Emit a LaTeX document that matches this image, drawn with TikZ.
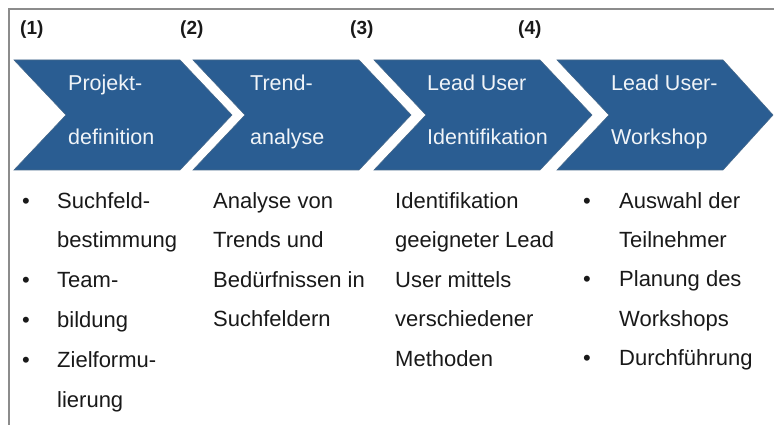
\documentclass[tikz,border=0pt]{standalone}
\usepackage{fontspec}
\setmainfont{Liberation Sans}
\definecolor{chevblue}{RGB}{42,93,146}
\definecolor{chevedge}{RGB}{70,105,140}
\definecolor{framegray}{RGB}{140,140,140}
\definecolor{bodygray}{RGB}{25,25,25}
\definecolor{lighttext}{RGB}{240,244,248}
\tikzset{
  chev/.style={fill=chevblue, draw=chevedge, line width=0.6pt, line join=miter},
  ctext/.style={text=lighttext, font=\fontsize{21.5}{24}\selectfont, anchor=base west, inner sep=0pt},
  btext/.style={text=bodygray, font=\fontsize{22}{26}\selectfont, anchor=base west, inner sep=0pt},
  bul/.style={text=bodygray, font=\fontsize{22}{26}\selectfont, anchor=base, inner sep=0pt},
  numlab/.style={text=bodygray, font=\bfseries\fontsize{19}{22}\selectfont, anchor=base west, inner sep=0pt},
  framestyle/.style={draw=framegray, line width=1.6pt}
}
\begin{document}
\begin{tikzpicture}[x=1pt,y=-1pt]
\useasboundingbox (0,0) rectangle (774,425);
% frame
\coordinate (fbl) at (9,426);
\coordinate (ftl) at (9,9);
\coordinate (ftr) at (775,9);
\draw[framestyle] (fbl) -- (ftl) -- (ftr);
% step numbers
\node[numlab] (n1) at (20,35) {(1)};
\node[numlab] (n2) at (180,35) {(2)};
\node[numlab] (n3) at (350,35) {(3)};
\node[numlab] (n4) at (518,35) {(4)};
% chevrons
\foreach \xo/\d in {14/52, 193/52, 374/52, 557/50} {
  \draw[chev] (\xo,60) -- (\xo+166,60) -- (\xo+166+\d,115) -- (\xo+166,170) -- (\xo,170) -- (\xo+52,115) -- cycle;
}
% chevron texts
\node[ctext] (c1a) at (68,91) {Projekt-};
\node[ctext] (c1b) at (68,145) {definition};
\node[ctext] (c2a) at (250,91) {Trend-};
\node[ctext] (c2b) at (250,145) {analyse};
\node[ctext] (c3a) at (427,91) {Lead User};
\node[ctext] (c3b) at (427,145) {Identifikation};
\node[ctext] (c4a) at (611,91) {Lead User-};
\node[ctext] (c4b) at (611,145) {Workshop};
% column 1
\foreach \b/\t [count=\i from 0] in {1/Suchfeld-, 0/bestimmung, 1/Team-, 1/bildung, 1/Zielformu-, 0/lierung} {
  \node[btext] (a1-\i) at (57,208+39.8*\i) {\t};
  \ifnum\b=1 \node[bul] (p1-\i) at (26,208+39.8*\i) {•}; \fi
}
% column 2
\foreach \t [count=\i from 0] in {Analyse von, Trends und, Bedürfnissen in, Suchfeldern} {
  \node[btext] (a2-\i) at (213,208+39.6*\i) {\t};
}
% column 3
\foreach \t [count=\i from 0] in {Identifikation, geeigneter Lead, User mittels, verschiedener, Methoden} {
  \node[btext] (a3-\i) at (395,208+39.6*\i) {\t};
}
% column 4
\foreach \b/\t [count=\i from 0] in {1/Auswahl der, 0/Teilnehmer, 1/Planung des, 0/Workshops, 1/Durchführung} {
  \node[btext] (a4-\i) at (619,208+39.4*\i) {\t};
  \ifnum\b=1 \node[bul] (p4-\i) at (587,208+39.4*\i) {•}; \fi
}
\end{tikzpicture}
\end{document}
